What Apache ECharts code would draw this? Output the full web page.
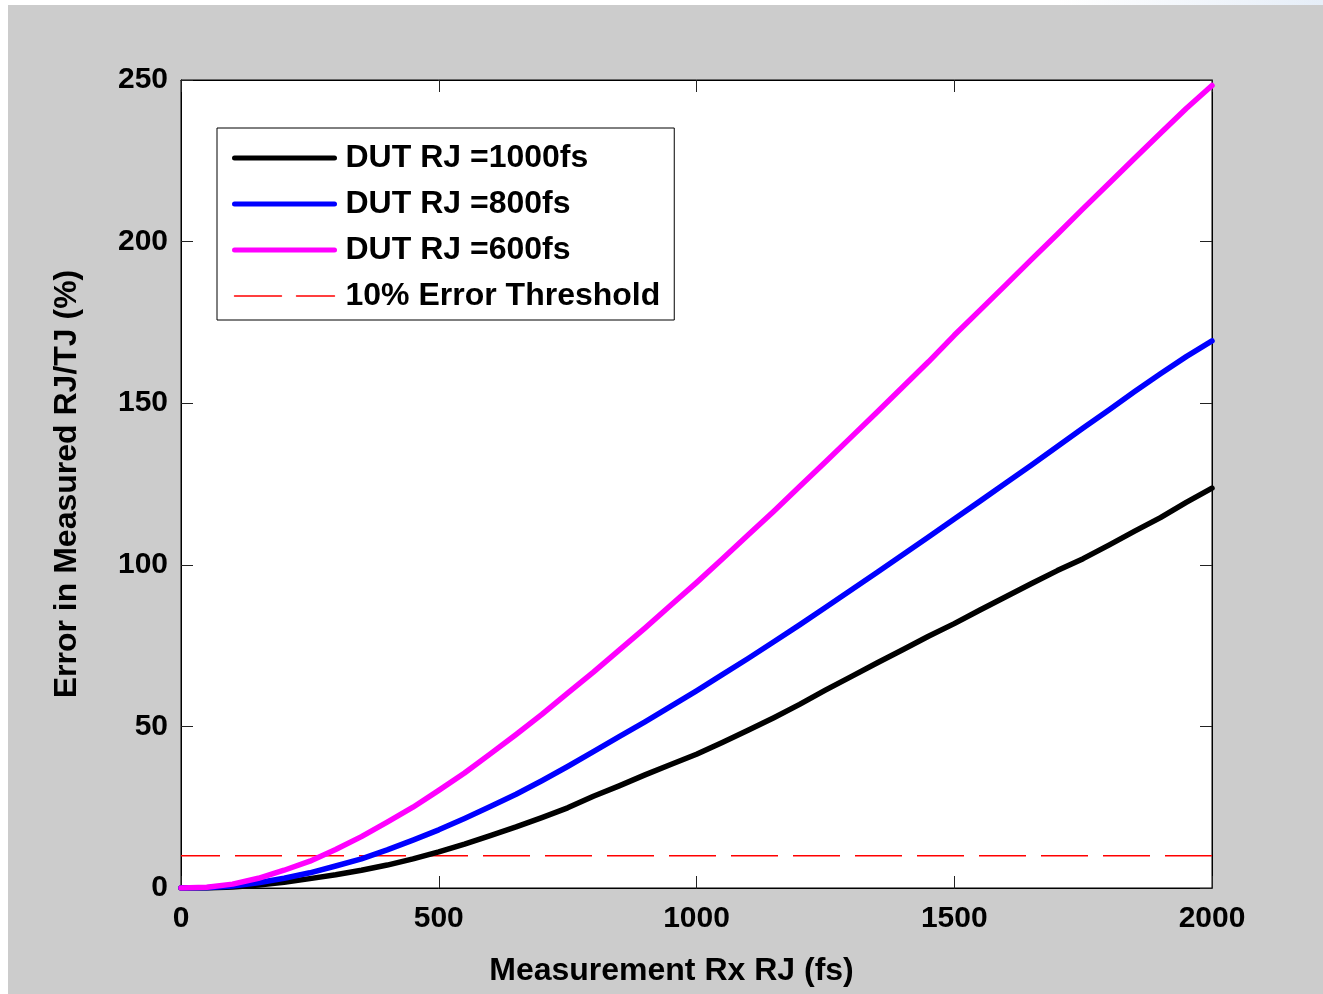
<!DOCTYPE html>
<html>
<head>
<meta charset="utf-8">
<script src="https://cdn.jsdelivr.net/npm/echarts@6/dist/echarts.min.js"></script>
<style>
  html, body { margin: 0; padding: 0; background: #ffffff; }
  #chart { width: 1323px; height: 994px; }
</style>
</head>
<body>
<div id="chart"></div>
<script>
// Receiver RJ sweep (fs), one sample every 50 fs
const rxRJ = [
  0, 50, 100, 150, 200, 250, 300, 350, 400, 450,
  500, 550, 600, 650, 700, 750, 800, 850, 900, 950,
  1000, 1050, 1100, 1150, 1200, 1250, 1300, 1350, 1400, 1450,
  1500, 1550, 1600, 1650, 1700, 1750, 1800, 1850, 1900, 1950, 2000
];

// Error in measured RJ/TJ (%) for each DUT RJ
const err1000 = [
  0.0, 0.0, 0.3, 0.9, 1.8, 2.9, 4.1, 5.5, 7.1, 9.0,
  11.2, 13.6, 16.2, 18.9, 21.8, 24.8, 28.4, 31.6, 35.0, 38.2,
  41.4, 45.0, 48.8, 52.7, 56.8, 61.2, 65.4, 69.6, 73.7, 77.9,
  81.8, 86.0, 90.1, 94.2, 98.2, 101.9, 106.1, 110.4, 114.6, 119.3, 123.7
];
const err800 = [
  0.0, 0.1, 0.6, 1.6, 3.0, 4.7, 6.8, 9.0, 11.8, 14.8,
  18.0, 21.5, 25.2, 29.0, 33.2, 37.6, 42.2, 46.8, 51.4, 56.2,
  61.0, 66.0, 71.0, 76.2, 81.4, 86.8, 92.2, 97.6, 103.1, 108.6,
  114.2, 119.7, 125.3, 130.9, 136.6, 142.3, 147.9, 153.6, 159.1, 164.4, 169.3
];
const err600 = [
  0.0, 0.2, 1.2, 3.0, 5.5, 8.3, 11.9, 15.9, 20.4, 25.0,
  30.2, 35.6, 41.5, 47.5, 53.7, 60.3, 66.8, 73.6, 80.4, 87.5,
  94.5, 101.8, 109.2, 116.6, 124.2, 131.8, 139.5, 147.2, 155.0, 162.8,
  171.0, 178.8, 186.6, 194.5, 202.3, 210.2, 218.0, 225.8, 233.5, 241.2, 248.3
];

// 10% threshold, drawn right-to-left across the sweep
const thresholdX = [2000, 0];
const thresholdY = [10, 10];

const xTicks = [0, 500, 1000, 1500, 2000];
const yTicks = [0, 50, 100, 150, 200, 250];

const seriesNames = ['DUT RJ =1000fs', 'DUT RJ =800fs', 'DUT RJ =600fs', '10% Error Threshold'];

const pairs = (xs, ys) => xs.map((x, i) => [x, ys[i]]);

const FONT = '"Liberation Sans", Arial, sans-serif';
const labelStyle = {
  fontFamily: FONT, fontWeight: 'bold', fontSize: 30, color: '#000',
  formatter: v => String(v)
};

const chart = echarts.init(document.getElementById('chart'), null, { renderer: 'canvas' });

const curve = (name, data, color) => ({
  name, type: 'line', data, symbol: 'none', smooth: false,
  lineStyle: { color, width: 5.5, cap: 'round', join: 'round' },
  itemStyle: { color },
  z: 3
});

const legendItem = (name, width) => ({
  name,
  lineStyle: { width, cap: 'round' },
  itemStyle: { opacity: 0 }
});

chart.setOption({
  backgroundColor: '#cccccc',
  animation: false,
  graphic: [
    { type: 'rect', shape: { x: 0, y: 0, width: 1323, height: 5 },
      style: { fill: new echarts.graphic.LinearGradient(0, 0, 1, 0, [
        { offset: 0, color: '#ffffff' }, { offset: 0.8, color: '#ffffff' }, { offset: 1, color: '#e6eef8' }]) } },
    { type: 'rect', shape: { x: 0, y: 0, width: 8, height: 994 }, style: { fill: '#ffffff' } }
  ],
  grid: {
    left: 181, right: 111, top: 80, bottom: 106,
    show: true, backgroundColor: '#ffffff', borderColor: '#000', borderWidth: 1
  },
  legend: {
    orient: 'vertical',
    left: 217, top: 128,
    padding: [14, 14, 8, 15],
    itemWidth: 100, itemHeight: 32, itemGap: 14,
    backgroundColor: '#ffffff', borderColor: '#000', borderWidth: 1,
    textStyle: { fontFamily: FONT, fontWeight: 'bold', fontSize: 32, color: '#000', padding: [0, 0, 0, 6] },
    data: [
      legendItem(seriesNames[0], 5),
      legendItem(seriesNames[1], 5),
      legendItem(seriesNames[2], 5),
      legendItem(seriesNames[3], 1.4)
    ]
  },
  xAxis: [
    {
      type: 'value', min: xTicks[0], max: xTicks[xTicks.length - 1], interval: xTicks[1] - xTicks[0],
      name: 'Measurement Rx RJ (fs)', nameLocation: 'middle', nameGap: 67,
      nameTextStyle: { fontFamily: FONT, fontWeight: 'bold', fontSize: 32, color: '#000', padding: [0, 50, 0, 0] },
      axisLine: { show: true, onZero: false, lineStyle: { color: '#000', width: 1 } },
      axisTick: { show: true, inside: true, length: 12, lineStyle: { color: '#222' } },
      axisLabel: Object.assign({ margin: 16 }, labelStyle),
      splitLine: { show: false }
    },
    {
      type: 'value', position: 'top', min: xTicks[0], max: xTicks[xTicks.length - 1], interval: xTicks[1] - xTicks[0],
      axisLine: { show: true, onZero: false, lineStyle: { color: '#000', width: 1 } },
      axisTick: { show: true, inside: true, length: 12, lineStyle: { color: '#222' } },
      axisLabel: { show: false },
      splitLine: { show: false }
    }
  ],
  yAxis: [
    {
      type: 'value', min: yTicks[0], max: yTicks[yTicks.length - 1], interval: yTicks[1] - yTicks[0],
      name: 'Error in Measured RJ/TJ (%)', nameLocation: 'middle', nameGap: 98, nameRotate: 90,
      nameTextStyle: { fontFamily: FONT, fontWeight: 'bold', fontSize: 32, color: '#000' },
      axisLine: { show: true, onZero: false, lineStyle: { color: '#000', width: 1 } },
      axisTick: { show: true, inside: true, length: 12, lineStyle: { color: '#222' } },
      axisLabel: Object.assign({ margin: 13, padding: [6, 0, 0, 0] }, labelStyle),
      splitLine: { show: false }
    },
    {
      type: 'value', position: 'right', min: yTicks[0], max: yTicks[yTicks.length - 1], interval: yTicks[1] - yTicks[0],
      axisLine: { show: true, onZero: false, lineStyle: { color: '#000', width: 1 } },
      axisTick: { show: true, inside: true, length: 12, lineStyle: { color: '#222' } },
      axisLabel: { show: false },
      splitLine: { show: false }
    }
  ],
  series: [
    curve(seriesNames[0], pairs(rxRJ, err1000), '#000000'),
    curve(seriesNames[1], pairs(rxRJ, err800), '#0000ff'),
    curve(seriesNames[2], pairs(rxRJ, err600), '#ff00ff'),
    {
      name: seriesNames[3], type: 'line', data: pairs(thresholdX, thresholdY), symbol: 'none',
      lineStyle: { color: '#ff0000', width: 1.4, type: [47, 15] },
      itemStyle: { color: '#ff0000' },
      z: 2
    }
  ]
});
</script>
</body>
</html>
